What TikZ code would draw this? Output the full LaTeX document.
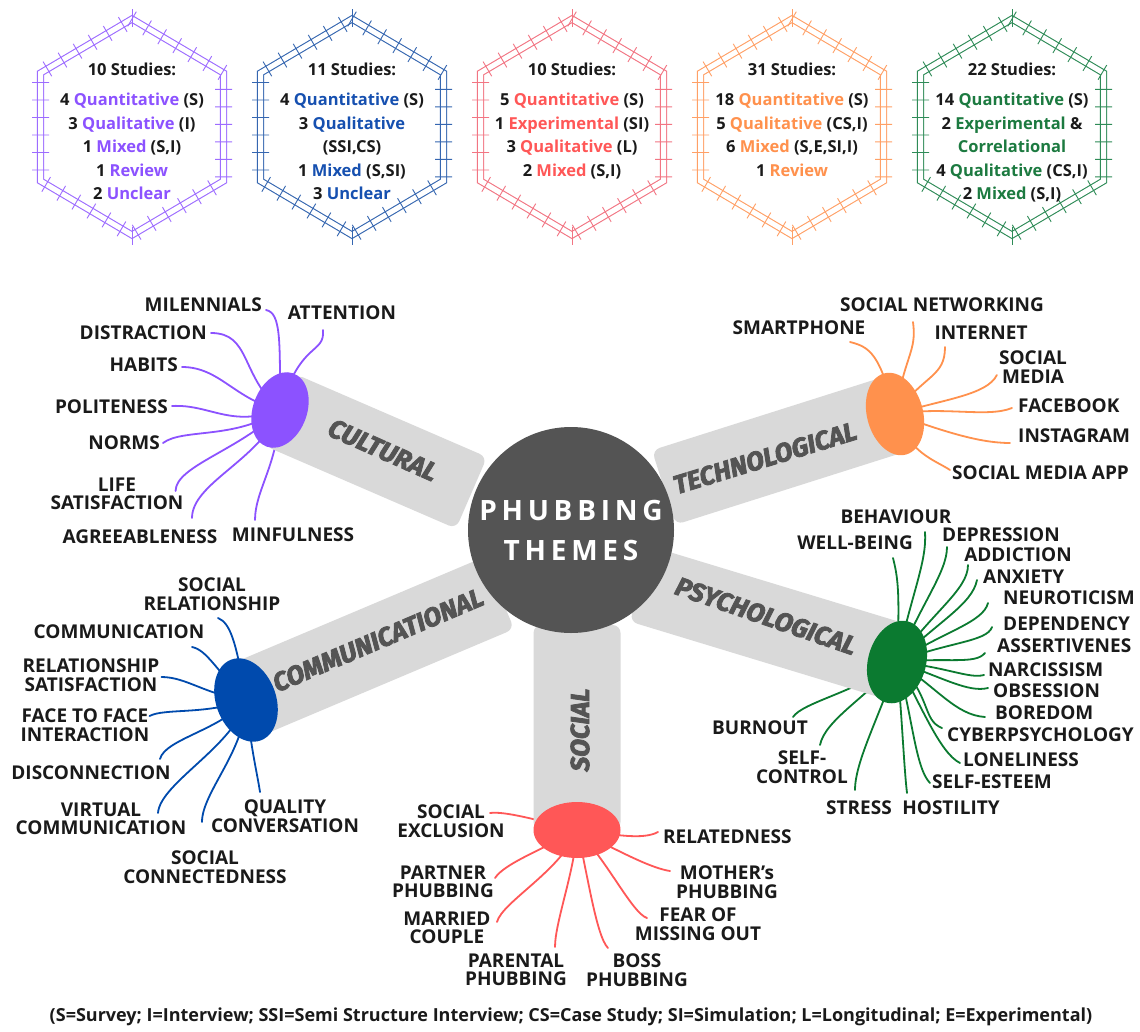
\documentclass[tikz,border=0pt]{standalone}
\usepackage{fontspec}
\setmainfont{Open Sans}
\newfontfamily\barfont{Fira Sans}[BoldItalicFeatures={FakeBold=3},ItalicFeatures={FakeBold=3}]
\newfontfamily\hubfont{Open Sans}[LetterSpace=17]
\usetikzlibrary{shapes.geometric,decorations.pathreplacing,calc}
\definecolor{cpurple}{HTML}{8C52FF}
\definecolor{cblue}{HTML}{004AAD}
\definecolor{cred}{HTML}{FF5757}
\definecolor{corange}{HTML}{FF914D}
\definecolor{cgreen}{HTML}{0B7A30}
\definecolor{hpurple}{HTML}{9D6CFF}
\definecolor{hblue}{HTML}{3566B0}
\definecolor{hred}{HTML}{F27583}
\definecolor{horange}{HTML}{FFA066}
\definecolor{hgreen}{HTML}{2E8B57}
\definecolor{tpurple}{HTML}{8C52FF}
\definecolor{tblue}{HTML}{1650B0}
\definecolor{tred}{HTML}{FF5757}
\definecolor{torange}{HTML}{FF914D}
\definecolor{tgreen}{HTML}{1C7A40}
\definecolor{bargray}{HTML}{D9D9D9}
\definecolor{dark}{HTML}{545454}
\definecolor{ink}{HTML}{1A1A1A}
\pgfdeclarelayer{bg}
\pgfdeclarelayer{tentacles}
\pgfdeclarelayer{bars}
\pgfsetlayers{bg,tentacles,bars,main}
\tikzset{
 lab/.style={font=\fontsize{19}{18.5}\selectfont\bfseries, text=ink, inner sep=0pt, align=center},
 tent/.style={draw=#1, line width=1.8pt, line cap=round},
 barbox/.style={rectangle, fill=bargray, rounded corners=8pt, inner sep=0pt, draw=none},
 blob/.style={ellipse, fill=#1, draw=none, inner sep=0pt},
 bartext/.style={font=\barfont\fontsize{26}{26}\selectfont\bfseries\itshape, text=dark, inner sep=0pt},
 hexline/.style={draw=#1, line width=1.1pt, double=white, double distance=5pt, line join=miter},
 hexticks/.style={draw=#1, line width=0.9pt, decorate, decoration={ticks, segment length=17.5pt, amplitude=8.5pt}},
 hextxt/.style={font=\fontsize{16.5}{23.5}\selectfont\bfseries, text=ink, align=center, anchor=north, inner sep=0pt},
}
\begin{document}
\begin{tikzpicture}[x=1pt,y=-1pt]
\useasboundingbox (0,0) rectangle (1140,1031);
\begin{pgfonlayer}{bg}
\fill[white] (0,0) rectangle (1140,1031);
\end{pgfonlayer}

% ---------- hexagons ----------
\foreach \cx/\col in {132/hpurple,352/hblue,572/hred,792/horange,1012/hgreen}{
 \begin{scope}[shift={(\cx,127)}]
  \draw[hexline=\col] (0,-108) -- (91.5,-54) -- (91.5,54) -- (0,108) -- (-91.5,54) -- (-91.5,-54) -- cycle;
  \draw[hexticks=\col] (0,-108) -- (91.5,-54) -- (91.5,54) -- (0,108) -- (-91.5,54) -- (-91.5,-54) -- cycle;
  \draw[\col, line width=0.9pt] (0,-118) -- (0,-100) (0,100) -- (0,118);
 \end{scope}
}
\node[hextxt] (h1) at (132,63) {10 Studies:\\[6.5pt]
 4 \textcolor{tpurple}{Quantitative} (S)\\ 3 \textcolor{tpurple}{Qualitative} (I)\\
 1 \textcolor{tpurple}{Mixed} (S,I)\\ 1 \textcolor{tpurple}{Review}\\ 2 \textcolor{tpurple}{Unclear}};
\node[hextxt] (h2) at (352,63) {11 Studies:\\[6.5pt]
 4 \textcolor{tblue}{Quantitative} (S)\\ 3 \textcolor{tblue}{Qualitative}\\ (SSI,CS)\\
 1 \textcolor{tblue}{Mixed} (S,SI)\\ 3 \textcolor{tblue}{Unclear}};
\node[hextxt] (h3) at (572,63) {10 Studies:\\[6.5pt]
 5 \textcolor{tred}{Quantitative} (S)\\ 1 \textcolor{tred}{Experimental} (SI)\\
 3 \textcolor{tred}{Qualitative} (L)\\ 2 \textcolor{tred}{Mixed} (S,I)};
\node[hextxt] (h4) at (792,63) {31 Studies:\\[6.5pt]
 18 \textcolor{torange}{Quantitative} (S)\\ 5 \textcolor{torange}{Qualitative} (CS,I)\\
 6 \textcolor{torange}{Mixed} (S,E,SI,I)\\ 1 \textcolor{torange}{Review}};
\node[hextxt] (h5) at (1012,63) {22 Studies:\\[6.5pt]
 14 \textcolor{tgreen}{Quantitative} (S)\\ 2 \textcolor{tgreen}{Experimental} \&\\
 \textcolor{tgreen}{Correlational}\\ 4 \textcolor{tgreen}{Qualitative} (CS,I)\\ 2 \textcolor{tgreen}{Mixed} (S,I)};

% ---------- hub, blobs ----------
\node[circle, fill=dark, minimum size=206, inner sep=0pt, text=white,
      font=\hubfont\fontsize{28}{40}\selectfont\bfseries, align=center] (hub) at (571,530) {PHUBBING\\THEMES};
\node[blob=cpurple, minimum width=54, minimum height=78, rotate=-20] (cult) at (280,410) {};
\node[blob=corange, minimum width=56, minimum height=84, rotate=15] (tech) at (895,414) {};
\node[blob=cgreen, minimum width=58, minimum height=84, rotate=-15] (psy) at (897,662) {};
\node[blob=cblue, minimum width=60, minimum height=86, rotate=20] (comm) at (246,700) {};
\node[blob=cred, minimum width=87, minimum height=56] (soc) at (577,830) {};

% ---------- bars ----------
\begin{pgfonlayer}{bars}
\node[barbox, minimum width=208.6, minimum height=78, rotate=-23.4] (bcult) at (375.8,451.4) {};
\node[barbox, minimum width=242.6, minimum height=78, rotate=17.6] (btech) at (779.4,450.8) {};
\node[barbox, minimum width=267.6, minimum height=78, rotate=-16.9] (bpsy) at (769,623) {};
\node[barbox, minimum width=274.7, minimum height=78, rotate=22.9] (bcomm) at (372.5,646.5) {};
\node[barbox, minimum width=87, minimum height=205] (bsoc) at (577,727.5) {};
\end{pgfonlayer}
\node[bartext, rotate=-24] (tcult) at (383,450) {CULTURAL};
\node[bartext, rotate=17] (ttech) at (765,458) {TECHNOLOGICAL};
\node[bartext, rotate=-19] (tpsy) at (766,616) {PSYCHOLOGICAL};
\node[bartext, rotate=23] (tcomm) at (378,640) {COMMUNICATIONAL};
\node[bartext, rotate=90] (tsoc) at (580,730) {SOCIAL};

% ---------- labels: cultural ----------
\node[lab, anchor=east] (mil) at (262,305) {MILENNIALS};
\node[lab] (att) at (342,313) {ATTENTION};
\node[lab, anchor=east] (dist) at (207,333) {DISTRACTION};
\node[lab, anchor=east] (hab) at (178,365) {HABITS};
\node[lab, anchor=east] (pol) at (168,407) {POLITENESS};
\node[lab, anchor=east] (norms) at (160,443) {NORMS};
\node[lab] (life) at (117,494) {LIFE\\SATISFACTION};
\node[lab] (agree) at (140,537) {AGREEABLENESS};
\node[lab] (minf) at (293,535) {MINFULNESS};
% technological
\node[lab] (smart) at (799,328) {SMARTPHONE};
\node[lab] (snet) at (942,305) {SOCIAL NETWORKING};
\node[lab] (inet) at (981,333) {INTERNET};
\node[lab] (smedia) at (1033,367) {SOCIAL\\MEDIA};
\node[lab, anchor=west] (fb) at (1018,406) {FACEBOOK};
\node[lab, anchor=west] (ig) at (1018,436) {INSTAGRAM};
\node[lab, anchor=west] (sma) at (952,473) {SOCIAL MEDIA APP};
% psychological
\node[lab] (beh) at (896,517) {BEHAVIOUR};
\node[lab] (wb) at (855,543) {WELL-BEING};
\node[lab] (dep) at (1001,535) {DEPRESSION};
\node[lab] (add) at (1018,555) {ADDICTION};
\node[lab, anchor=west] (anx) at (983,577) {ANXIETY};
\node[lab, anchor=west] (neu) at (1003,598) {NEUROTICISM};
\node[lab, anchor=west] (dpd) at (1003,624) {DEPENDENCY};
\node[lab, anchor=west] (ass) at (997,646) {ASSERTIVENES};
\node[lab, anchor=west] (nar) at (988,670) {NARCISSISM};
\node[lab, anchor=west] (obs) at (993,691) {OBSESSION};
\node[lab, anchor=west] (bor) at (995,713) {BOREDOM};
\node[lab, anchor=west] (cyb) at (947,735) {CYBERPSYCHOLOGY};
\node[lab, anchor=west] (lon) at (963,760) {LONELINESS};
\node[lab, anchor=west] (sest) at (932,782) {SELF-ESTEEM};
\node[lab] (hos) at (951,808) {HOSTILITY};
\node[lab] (str) at (859,808) {STRESS};
\node[lab] (sctl) at (802,767) {SELF-\\CONTROL};
\node[lab] (burn) at (760,728) {BURNOUT};
% communicational
\node[lab] (srel) at (212,594) {SOCIAL\\RELATIONSHIP};
\node[lab] (commu) at (119,632) {COMMUNICATION};
\node[lab] (rsat) at (91,675) {RELATIONSHIP\\SATISFACTION};
\node[lab] (f2f) at (85,725) {FACE TO FACE\\INTERACTION};
\node[lab] (disc) at (91,773) {DISCONNECTION};
\node[lab] (virt) at (101,819) {VIRTUAL\\COMMUNICATION};
\node[lab] (sconn) at (205,867) {SOCIAL\\CONNECTEDNESS};
\node[lab] (qual) at (285,816) {QUALITY\\CONVERSATION};
% social
\node[lab] (sexcl) at (451,821) {SOCIAL\\EXCLUSION};
\node[lab, anchor=west] (rel) at (663,837) {RELATEDNESS};
\node[lab] (moth) at (727,882) {MOTHER's\\PHUBBING};
\node[lab] (fomo) at (698,924) {FEAR OF\\MISSING OUT};
\node[lab] (boss) at (637,970) {BOSS\\PHUBBING};
\node[lab] (par) at (516,970) {PARENTAL\\PHUBBING};
\node[lab] (mar) at (447,928) {MARRIED\\COUPLE};
\node[lab] (part) at (443,882) {PARTNER\\PHUBBING};

\node[font=\fontsize{18}{18}\selectfont\bfseries, text=ink, inner sep=0pt] (foot) at (571,1017)
 {(S=Survey; I=Interview; SSI=Semi Structure Interview; CS=Case Study; SI=Simulation; L=Longitudinal; E=Experimental)};

% ---------- tentacles ----------
\begin{pgfonlayer}{tentacles}
\begin{scope}[tent=cpurple]
\draw (cult.center) .. controls +(0,-70) and +(15,3) .. ($(mil.east)+(4,5)$);
\draw (cult.center) .. controls +(20,-70) and +(2,25) .. ($(att.center)+(-19,17)$);
\draw (cult.center) .. controls +(-40,-35) and +(40,0) .. ($(dist.east)+(4,0)$);
\draw (cult.center) .. controls +(-45,-10) and +(38,0) .. ($(hab.east)+(4,2)$);
\draw (cult.center) .. controls +(-50,18) and +(38,-2) .. ($(pol.east)+(4,-1)$);
\draw (cult.center) .. controls +(-45,30) and +(20,-15) .. ($(norms.east)+(3,0)$);
\draw (cult.center) .. controls +(-40,40) and +(0,-25) .. ($(life.east)+(-8,-3)$);
\draw (cult.center) .. controls +(-20,50) and +(0,-35) .. ($(agree.center)+(52,-19)$);
\draw (cult.center) .. controls +(-2,55) and +(0,-30) .. ($(minf.center)+(-38,-15)$);
\end{scope}
\begin{scope}[tent=corange]
\draw (tech.center) .. controls +(-15,-60) and +(20,5) .. ($(smart.center)+(51,14)$);
\draw (tech.center) .. controls +(10,-60) and +(4,30) .. ($(snet.center)+(-29,17)$);
\draw (tech.center) .. controls +(30,-40) and +(0,30) .. ($(inet.center)+(-36,14)$);
\draw (tech.center) .. controls +(50,-15) and +(-10,20) .. ($(smedia.west)+(-2,8)$);
\draw (tech.center) .. controls +(50,-8) and +(-25,10) .. ($(fb.west)+(-6,2)$);
\draw (tech.center) .. controls +(50,18) and +(-30,0) .. ($(ig.west)+(-8,7)$);
\draw (tech.center) .. controls +(15,40) and +(-15,-10) .. ($(sma.west)+(-2,-3)$);
\end{scope}
\begin{scope}[tent=cgreen]
\draw (psy.center) .. controls +(15,-70) and +(2,30) .. ($(beh.center)+(29,15)$);
\draw (psy.center) .. controls +(3,-70) and +(5,20) .. ($(wb.center)+(38,15)$);
\draw (psy.center) .. controls +(25,-60) and +(0,25) .. ($(dep.center)+(-54,12)$);
\draw (psy.center) .. controls +(35,-50) and +(0,25) .. ($(add.center)+(-50,10)$);
\draw (psy.center) .. controls +(40,-40) and +(-5,25) .. ($(anx.west)+(-6,3)$);
\draw (psy.center) .. controls +(45,-30) and +(-5,20) .. ($(neu.west)+(-15,5)$);
\draw (psy.center) .. controls +(50,-20) and +(-5,15) .. ($(dpd.west)+(-11,3)$);
\draw (psy.center) .. controls +(50,-5) and +(-10,12) .. ($(ass.west)+(-12,7)$);
\draw (psy.center) .. controls +(50,5) and +(-15,4) .. ($(nar.west)+(-4,5)$);
\draw (psy.center) .. controls +(45,15) and +(-20,5) .. ($(obs.west)+(-5,-3)$);
\draw (psy.center) .. controls +(40,25) and +(-30,-2) .. ($(bor.west)+(-10,4)$);
\draw (psy.center) .. controls +(35,35) and +(-20,-8) .. ($(cyb.west)+(-5,-7)$);
\draw (psy.center) .. controls +(25,45) and +(-20,-10) .. ($(lon.west)+(-3,3)$);
\draw (psy.center) .. controls +(15,50) and +(-15,-15) .. ($(sest.west)+(-2,1)$);
\draw (psy.center) .. controls +(5,55) and +(-3,-25) .. ($(hos.center)+(-44,-15)$);
\draw (psy.center) .. controls +(-15,50) and +(0,-30) .. ($(str.center)+(-4,-18)$);
\draw (psy.center) .. controls +(-30,35) and +(5,-25) .. ($(sctl.center)+(18,-22)$);
\draw (psy.center) .. controls +(-40,30) and +(10,-15) .. ($(burn.center)+(33,-11)$);
\end{scope}
\begin{scope}[tent=cblue]
\draw (comm.center) .. controls +(-10,-60) and +(12,5) .. ($(srel.center)+(6,24)$);
\draw (comm.center) .. controls +(-30,-30) and +(15,3) .. ($(commu.center)+(73,15)$);
\draw (comm.center) .. controls +(-40,-5) and +(25,0) .. ($(rsat.east)+(2,2)$);
\draw (comm.center) .. controls +(-40,15) and +(15,-8) .. ($(f2f.east)+(0,-9)$);
\draw (comm.center) .. controls +(-25,30) and +(5,-20) .. ($(disc.center)+(69,-14)$);
\draw (comm.center) .. controls +(-10,45) and +(2,-30) .. ($(virt.center)+(57,-6)$);
\draw (comm.center) .. controls +(0,50) and +(0,-30) .. ($(sconn.center)+(-3,-45)$);
\draw (comm.center) .. controls +(5,50) and +(-3,-20) .. ($(qual.center)+(-25,-24)$);
\end{scope}
\begin{scope}[tent=cred]
\draw (soc.center) .. controls +(-40,-10) and +(15,-2) .. ($(sexcl.center)+(39,-8)$);
\draw (soc.center) .. controls +(40,5) and +(-15,8) .. ($(rel.west)+(-5,-5)$);
\draw (soc.center) .. controls +(40,20) and +(-20,-3) .. ($(moth.center)+(-57,-11)$);
\draw (soc.center) .. controls +(30,30) and +(-15,-5) .. ($(fomo.center)+(-51,-6)$);
\draw (soc.center) .. controls +(10,40) and +(-12,-12) .. ($(boss.center)+(-29,-22)$);
\draw (soc.center) .. controls +(-2,40) and +(0,-25) .. ($(par.center)+(39,-23)$);
\draw (soc.center) .. controls +(-15,40) and +(5,-20) .. ($(mar.center)+(50,-6)$);
\draw (soc.center) .. controls +(-35,20) and +(10,-15) .. ($(part.center)+(52,-4)$);
\end{scope}
\end{pgfonlayer}
\end{tikzpicture}
\end{document}
